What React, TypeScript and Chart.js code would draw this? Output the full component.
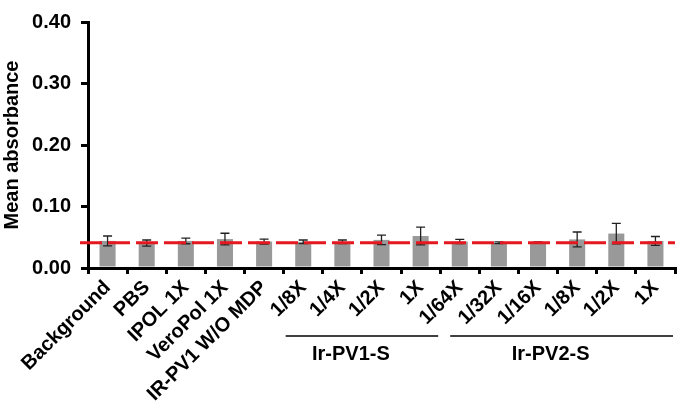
import React, { useEffect, useRef } from "react";
import { Chart, registerables } from "chart.js";

Chart.register(...registerables);

const categories = [
  "Background",
  "PBS",
  "IPOL 1X",
  "VeroPol 1X",
  "IR-PV1 W/O MDP",
  "1/8X",
  "1/4X",
  "1/2X",
  "1X",
  "1/64X",
  "1/32X",
  "1/16X",
  "1/8X",
  "1/2X",
  "1X",
];
const meanValues = [0.044, 0.0405, 0.044, 0.047, 0.043, 0.0425, 0.0425, 0.0457, 0.052, 0.043, 0.041, 0.042, 0.0465, 0.056, 0.044];
const errorValues = [0.008, 0.005, 0.0046, 0.0095, 0.004, 0.003, 0.003, 0.0077, 0.0144, 0.0035, 0.0015, 0.0006, 0.012, 0.0167, 0.0072];
const cutoffValue = 0.041;
const groupNames = ["Ir-PV1-S", "Ir-PV2-S"];
const groupStart = [5, 9];
const groupEnd = [8, 14];
const yTickValues = [0, 0.1, 0.2, 0.3, 0.4];

const FONT = '"Liberation Sans", Arial, Helvetica, sans-serif';

const errorBarPlugin = {
  id: "errorBars",
  afterDatasetsDraw(chart: any) {
    const ctx = chart.ctx;
    const x = chart.scales.x;
    const y = chart.scales.y;
    ctx.save();
    ctx.strokeStyle = "#222";
    ctx.lineWidth = 1.3;
    meanValues.forEach((v, i) => {
      const px = x.getPixelForValue(i);
      const top = y.getPixelForValue(v + errorValues[i]);
      const bot = y.getPixelForValue(v - errorValues[i]);
      ctx.beginPath();
      ctx.moveTo(px, top);
      ctx.lineTo(px, bot);
      ctx.moveTo(px - 4.5, top);
      ctx.lineTo(px + 4.5, top);
      ctx.moveTo(px - 4.5, bot);
      ctx.lineTo(px + 4.5, bot);
      ctx.stroke();
    });
    // red cutoff dashed line
    const ly = y.getPixelForValue(cutoffValue);
    ctx.strokeStyle = "#e3191f";
    ctx.lineWidth = 3;
    ctx.setLineDash([22, 6]);
    ctx.beginPath();
    ctx.moveTo(chart.chartArea.left - 8, ly);
    ctx.lineTo(chart.chartArea.right, ly);
    ctx.stroke();
    ctx.setLineDash([]);
    // group lines and labels
    ctx.strokeStyle = "#000";
    ctx.lineWidth = 1.5;
    ctx.fillStyle = "#000";
    ctx.font = "bold 20px " + FONT;
    ctx.textAlign = "center";
    ctx.textBaseline = "middle";
    const half = (x.getPixelForValue(1) - x.getPixelForValue(0)) / 2;
    groupNames.forEach((name, g) => {
      const l = x.getPixelForValue(groupStart[g]) - half + (g === 0 ? 2 : 10);
      const r = x.getPixelForValue(groupEnd[g]) + half - 2;
      const ly2 = chart.chartArea.bottom + 68;
      ctx.beginPath();
      ctx.moveTo(l, ly2);
      ctx.lineTo(r, ly2);
      ctx.stroke();
      ctx.fillText(name, (l + r) / 2 - 11, ly2 + 18);
    });
    ctx.restore();
  },
};

export default function App() {
  const ref = useRef<HTMLCanvasElement | null>(null);
  useEffect(() => {
    if (!ref.current) return;
    const chart = new Chart(ref.current, {
      type: "bar",
      data: {
        labels: categories,
        datasets: [
          {
            data: meanValues,
            backgroundColor: "#999999",
            borderWidth: 0,
            barPercentage: 0.41,
            categoryPercentage: 1,
          },
        ],
      },
      options: {
        animation: false,
        responsive: true,
        maintainAspectRatio: false,
        layout: { padding: { top: 8, right: 2, left: 0, bottom: 0 } },
        plugins: { legend: { display: false }, tooltip: { enabled: false } },
        scales: {
          x: {
            offset: true,
            grid: {
              display: true,
              drawOnChartArea: false,
              drawTicks: true,
              tickLength: 6,
              color: "#000",
              lineWidth: 3,
              offset: true,
            },
            border: { display: true, color: "#000", width: 3 },
            ticks: {
              autoSkip: false,
              maxRotation: 45,
              minRotation: 45,
              color: "#000",
              padding: 2,
              font: { family: FONT, size: 20, weight: "bold" },
            },
            afterFit: (s: any) => {
              s.height = 139;
            },
          },
          y: {
            min: 0,
            max: 0.4,
            afterBuildTicks: (s: any) => {
              s.ticks = yTickValues.map((v) => ({ value: v }));
            },
            grid: {
              display: true,
              drawOnChartArea: false,
              drawTicks: true,
              tickLength: 7,
              color: "#000",
              lineWidth: 3,
            },
            border: { display: true, color: "#000", width: 3 },
            ticks: {
              color: "#000",
              padding: 10,
              font: { family: FONT, size: 20, weight: "bold" },
              callback: (v: any) => Number(v).toFixed(2),
            },
            title: {
              display: true,
              text: "Mean absorbance",
              color: "#000",
              padding: { top: 0, bottom: 0 },
              font: { family: FONT, size: 20, weight: "bold" },
            },
            afterFit: (s: any) => {
              s.width = 88;
            },
          },
        },
      },
      plugins: [errorBarPlugin],
    });
    return () => chart.destroy();
  }, []);
  return (
    <div style={{ position: "absolute", left: 0, top: 0, width: 677, height: 407, background: "#fff" }}>
      <canvas ref={ref} />
    </div>
  );
}
